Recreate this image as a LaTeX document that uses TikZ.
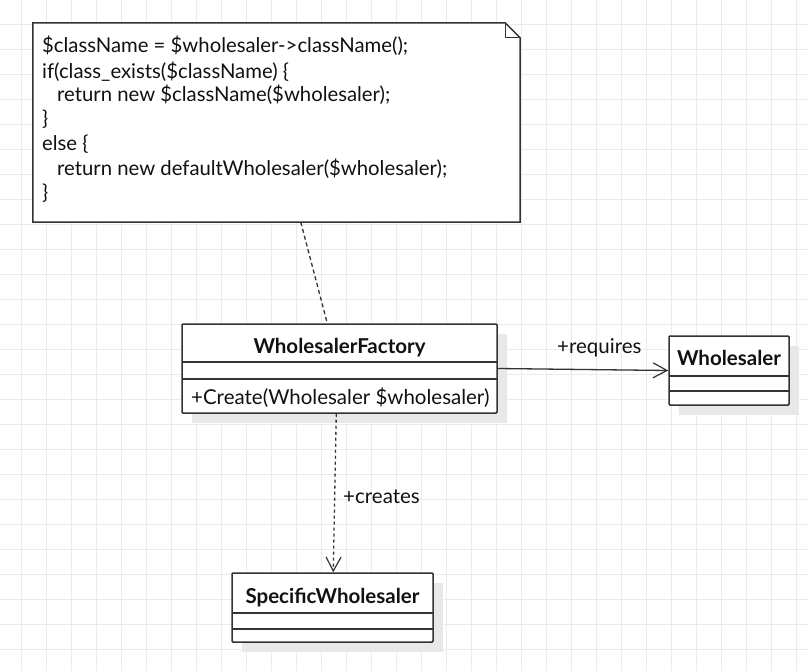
\documentclass[tikz,border=0pt]{standalone}
\usepackage{fontspec}
\setmainfont{Lato}
\usetikzlibrary{arrows.meta,calc}
\definecolor{gridc}{HTML}{EBEBEB}
\definecolor{shadowc}{HTML}{E8E8E8}
\definecolor{linec}{HTML}{333333}
\definecolor{txtc}{HTML}{111111}
\tikzset{
  gridline/.style={draw=gridc,line width=1pt},
  boxline/.style={draw=linec,line width=1.5pt},
  classbox/.style={rectangle,inner sep=0pt,fill=white,draw=linec,line width=1.5pt,rounded corners=1pt},
  shadowbox/.style={fill=shadowc,draw=none},
  codetext/.style={anchor=base west,inner sep=0pt,text=txtc,font=\fontsize{20.3}{24}\selectfont},
  titletext/.style={anchor=base,inner sep=0pt,text=txtc,font=\fontsize{20.5}{24}\selectfont\bfseries},
  optext/.style={anchor=base west,inner sep=0pt,text=txtc,font=\fontsize{20.5}{24}\selectfont},
  labeltext/.style={anchor=base west,inner sep=0pt,text=txtc,font=\fontsize{20.5}{24}\selectfont},
  conn/.style={draw=linec,line width=1.3pt},
  openarrow/.style={-{Straight Barb[length=14pt,width=15pt,line width=1.2pt]}},
}
\begin{document}
\begin{tikzpicture}[x=1pt,y=-1pt]
\useasboundingbox (0,0) rectangle (808,671);
\fill[white] (0,0) rectangle (808,671);
% grid
\foreach \i in {0,...,31} \draw[gridline] (21.5+25*\i,0) -- (21.5+25*\i,671);
\foreach \j in {0,...,26} \draw[gridline] (0,24.5+25*\j) -- (808,24.5+25*\j);

% note
\node (note) [rectangle,inner sep=0pt,minimum width=487pt,minimum height=199pt] at (276.5,122.5) {};
\filldraw[boxline,fill=white] (note.north west) -- ($(note.north east)+(-15,0)$) -- ($(note.north east)+(0,15)$) -- (note.south east) -- (note.south west) -- cycle;
\draw[draw=linec,line width=1pt] ($(note.north east)+(-15,0)$) -- ($(note.north east)+(-15,15)$) -- ($(note.north east)+(0,15)$);
\node[codetext] (l1) at (42,52.5) {\$className = \$wholesaler->className();};
\node[codetext] (l2) at (42,79) {if(class\_exists(\$className) \{};
\node[codetext] (l3) at (57,101.5) {return new \$className(\$wholesaler);};
\node[codetext] (l4) at (42,126) {\}};
\node[codetext] (l5) at (42,151) {else \{};
\node[codetext] (l6) at (57,176) {return new defaultWholesaler(\$wholesaler);};
\node[codetext] (l7) at (42,200) {\}};

% shadows
\fill[shadowbox] (192,334) rectangle (507,423);
\fill[shadowbox] (679,346) rectangle (799,415);
\fill[shadowbox] (242,583) rectangle (443,652);

% WholesalerFactory
\node (wf) [classbox,minimum width=315pt,minimum height=89pt] at (339.5,368.5) {};
\draw[boxline] (182,362) -- (497,362);
\draw[boxline] (182,379) -- (497,379);
\node[titletext] (wft) at (339.5,353) {WholesalerFactory};
\node[optext] (wfo) at (191,404) {+Create(Wholesaler \$wholesaler)};

% Wholesaler
\node (wh) [classbox,minimum width=120pt,minimum height=69pt] at (729,370.5) {};
\draw[boxline] (669,376) -- (789,376);
\draw[boxline] (669,391) -- (789,391);
\node[titletext] (wht) at (729,365) {Wholesaler};

% SpecificWholesaler
\node (sw) [classbox,minimum width=201pt,minimum height=69pt] at (332.5,607.5) {};
\draw[boxline] (232,613) -- (433,613);
\draw[boxline] (232,629) -- (433,629);
\node[titletext] (swt) at (332.5,603) {SpecificWholesaler};

% connectors
\draw[conn,dash pattern=on 4pt off 3pt] ($(note.south west)+(268,0)$) -- ($(wf.north west)+(146,0)$);
\draw[conn,openarrow] (wf.east) -- (wh.west);
\node[labeltext] (req) at (557,353) {+requires};
\draw[conn,openarrow,dash pattern=on 3pt off 3pt] ($(wf.south west)+(155,0)$) -- ($(sw.north west)+(102,0)$);
\node[labeltext] (cre) at (343,503) {+creates};
\end{tikzpicture}
\end{document}
